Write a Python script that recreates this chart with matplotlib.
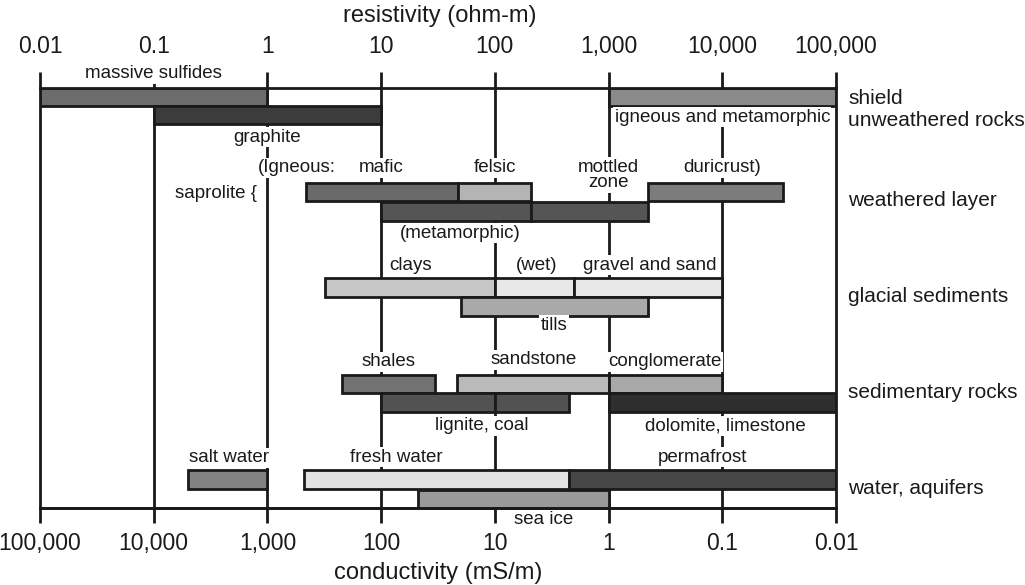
import numpy as np
import matplotlib
matplotlib.use("Agg")
import matplotlib.pyplot as plt
from matplotlib.ticker import NullLocator

plt.rcParams['font.family'] = ['Liberation Sans', 'DejaVu Sans']
INK = '#1a1a1a'

# resistivity ranges (ohm-m) of each material
bar_names = ["massive sulfides", "igneous and metamorphic", "graphite",
             "mafic", "felsic", "duricrust", "metamorphic", "mottled zone",
             "clays", "wet", "gravel and sand", "tills",
             "shales", "sandstone", "conglomerate", "lignite", "coal",
             "dolomite, limestone",
             "salt water", "fresh water", "permafrost", "sea ice"]
res_low = [0.01, 1000, 0.1,
           2.2, 47, 2200, 10, 210,
           3.2, 100, 500, 50,
           4.5, 46, 1000, 10, 100, 1000,
           0.2, 2.1, 450, 21]
res_high = [1, 100000, 10,
            47, 210, 34000, 210, 2200,
            100, 500, 10000, 2200,
            30, 1000, 10000, 100, 450, 100000,
            1, 450, 100000, 1000]

# groups on the right
groups = ["shield", "unweathered rocks", "weathered layer", "glacial sediments",
          "sedimentary rocks", "water, aquifers"]

# axis ticks
decades = [0.01, 0.1, 1, 10, 100, 1000, 10000, 100000]
res_labels = ["0.01", "0.1", "1", "10", "100", "1,000", "10,000", "100,000"]
cond_ticks = [100000, 10000, 1000, 100, 10, 1, 0.1, 0.01]
cond_labels = ["100,000", "10,000", "1,000", "100", "10", "1", "0.1", "0.01"]

# layout: vertical position (pixel rows) and grey of each bar
bar_y = [97, 97, 115,
         192, 192, 192, 211.5, 211.5,
         287.5, 287.5, 287.5, 306.5,
         384, 384, 384, 402.5, 402.5, 402.5,
         479.5, 479.5, 479.5, 499]
bar_c = ['#6c6c6c', '#8a8a8a', '#3c3c3c',
         '#6a6a6a', '#b4b4b4', '#7c7c7c', '#555555', '#555555',
         '#c6c6c6', '#e8e8e8', '#e8e8e8', '#a9a9a9',
         '#727272', '#bababa', '#a8a8a8', '#525252', '#525252', '#2e2e2e',
         '#828282', '#e2e2e2', '#474747', '#9a9a9a']

# bar annotations: text, x (ohm-m), y (pixel row), alignment
notes = [("massive sulfides", 0.1, 74, 'center'),
         ("graphite", 1, 137, 'center'),
         ("igneous and metamorphic", 10000, 117, 'center'),
         ("(Igneous:", 0.83, 168, 'left'),
         ("mafic", 10, 168, 'center'),
         ("felsic", 100, 168, 'center'),
         ("mottled\nzone", 1000, 175, 'center'),
         ("duricrust)", 10000, 168, 'center'),
         ("saprolite {", 0.81, 193, 'right'),
         ("(metamorphic)", 50, 233, 'center'),
         ("clays", 18, 265, 'center'),
         ("(wet)", 235, 265, 'center'),
         ("gravel and sand", 2300, 265, 'center'),
         ("tills", 330, 325, 'center'),
         ("shales", 11.7, 362, 'center'),
         ("sandstone", 220, 360, 'center'),
         ("conglomerate", 3140, 362, 'center'),
         ("lignite, coal", 77, 426, 'center'),
         ("dolomite, limestone", 10600, 426, 'center'),
         ("permafrost", 6640, 457, 'center'),
         ("salt water", 0.46, 458, 'center'),
         ("fresh water", 13.5, 457, 'center'),
         ("sea ice", 271, 520, 'center')]
group_y = [99, 121, 201, 296, 393, 488]

fig = plt.figure(figsize=(10.25, 5.85), dpi=100)
ax = fig.add_axes([40 / 1025, 77 / 585, 796 / 1025, 420 / 585])
ax.set_xscale('log')
ax.set_xlim(0.01, 100000)
ax.set_ylim(508, 88)

ax.vlines(decades[1:-1], 88, 508, color=INK, lw=2, zorder=1)

lefts = np.array(res_low)
widths = np.array(res_high) - lefts
ax.barh(bar_y, widths, left=lefts, height=18.5, color=bar_c,
        edgecolor=INK, linewidth=2, zorder=2)

for txt, x, y, ha in notes:
    ax.text(x, y, txt, ha=ha, va='center', fontsize=13.5, color=INK,
            linespacing=0.9, zorder=4, clip_on=False,
            bbox=dict(fc='white', ec='none', pad=1))

for g, y in zip(groups, group_y):
    ax.text(128000, y, g, ha='left', va='center', fontsize=15, color=INK,
            clip_on=False)

for s in ax.spines.values():
    s.set_linewidth(2)
    s.set_color(INK)

ax.set_yticks([])
ax.xaxis.tick_top()
ax.set_xticks(decades, res_labels)
ax.xaxis.set_minor_locator(NullLocator())
ax.tick_params(axis='x', which='major', direction='out', length=11.5,
               width=2, color=INK, pad=10, labelsize=16.5, labelcolor=INK)


def cond(x):
    x = np.asarray(x, dtype=float)
    with np.errstate(divide='ignore'):
        return 1000.0 / x


sec = ax.secondary_xaxis('bottom', functions=(cond, cond))
sec.set_xticks(cond_ticks, cond_labels)
sec.tick_params(axis='x', which='major', direction='out', length=11,
                width=2, color=INK, pad=6, labelsize=16.5, labelcolor=INK)
sec.tick_params(axis='x', which='minor', length=0, labelsize=0)
sec.spines['bottom'].set_linewidth(2)
sec.spines['bottom'].set_color(INK)

fig.text(440 / 1025, 1 - 16 / 585, "resistivity (ohm-m)", ha='center',
         va='center', fontsize=17, color=INK)
fig.text(438 / 1025, 1 - 573 / 585, "conductivity (mS/m)", ha='center',
         va='center', fontsize=17, color=INK)

fig.savefig("out.png", dpi=100)
